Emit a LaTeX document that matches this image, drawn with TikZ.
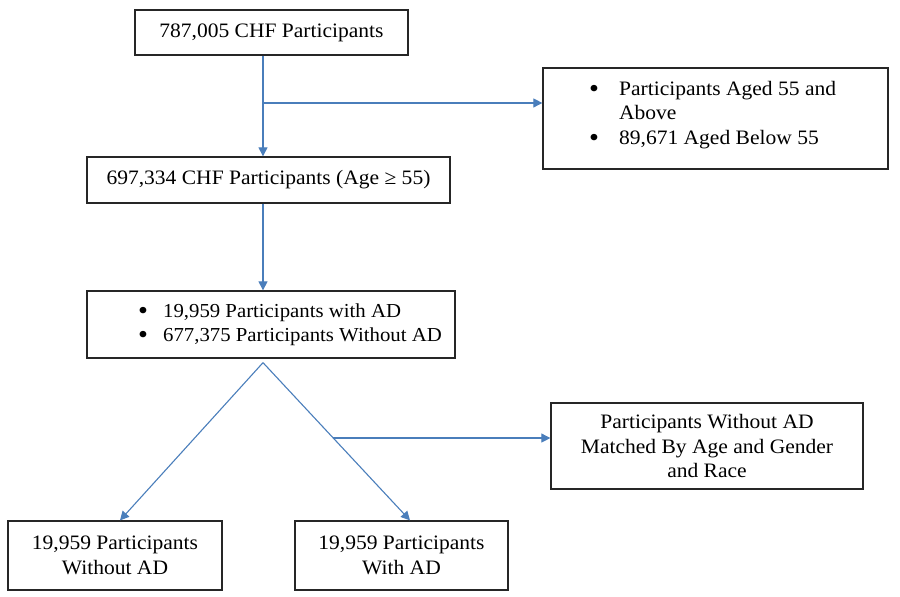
\documentclass[tikz,border=0pt]{standalone}
\usepackage{fontspec}
\setmainfont{Liberation Serif}[FakeStretch=1.05]
\usetikzlibrary{arrows.meta,calc}
\definecolor{arr}{HTML}{4A7EBB}
\newcommand{\bigbul}{\raisebox{-2pt}{\fontsize{27}{0}\selectfont\textbullet}}
\begin{document}
\begin{tikzpicture}[x=1pt,y=-1pt,
  box/.style={draw=black!85, line width=1.3pt, inner sep=0pt, align=center},
  txt/.style={inner sep=0pt, align=left, anchor=north west},
  conn/.style={draw=arr, line width=1.1pt, -{Triangle[length=9pt,width=9pt]}},
  font=\fontsize{20.5}{24.5}\selectfont]
\useasboundingbox[fill=white] (0,0) rectangle (900,597);
\node[box, minimum width=273pt, minimum height=45pt] (A) at (271.5,32.5) {787,005 CHF Participants};
\node[box, minimum width=345pt, minimum height=101pt] (B) at (715.5,118.5) {};
\node[txt] (Bt) at (589,78) {\begin{tabular}{@{}l@{\hspace{20pt}}l@{}}\bigbul & Participants Aged 55 and\\ & Above\\ \bigbul & 89,671 Aged Below 55\end{tabular}};
\node[box, minimum width=363pt, minimum height=46pt] (C) at (268.5,180) {697,334 CHF Participants (Age ≥ 55)};
\node[box, minimum width=368pt, minimum height=67pt] (D) at (271,324.5) {};
\node[txt, font=\fontsize{19.8}{24.5}\selectfont] (Dt) at (138,300) {\begin{tabular}{@{}l@{\hspace{15pt}}l@{}}\bigbul & 19,959 Participants with AD\\ \bigbul & 677,375 Participants Without AD\end{tabular}};
\node[box, minimum width=312pt, minimum height=86pt] (E) at (707,446) {Participants Without AD\\Matched By Age and Gender\\and Race};
\node[box, minimum width=214pt, minimum height=69pt] (F) at (115,555.5) {19,959 Participants\\Without AD};
\node[box, minimum width=213pt, minimum height=69pt] (G) at (401.5,555.5) {19,959 Participants\\With AD};
\coordinate (trunk) at (263,0);
\coordinate (b1) at ($(A.south -| trunk)!0.47!(C.north -| trunk)$);
\draw[conn] (A.south -| trunk) -- (C.north -| trunk);
\draw[conn] (b1) -- (b1 -| B.west);
\draw[conn] (C.south -| trunk) -- (D.north -| trunk);
\coordinate (dtop) at ($(D.south -| trunk)+(0,4)$);
\coordinate (fT) at ($(F.north)+(5,0)$);
\coordinate (gT) at ($(G.north)+(8.5,0)$);
\draw[conn] (dtop) -- (fT);
\draw[conn] (dtop) -- (gT);
\coordinate (b2) at ($(dtop)!0.478!(gT)$);
\draw[conn] (b2) -- (b2 -| E.west);
\end{tikzpicture}
\end{document}
